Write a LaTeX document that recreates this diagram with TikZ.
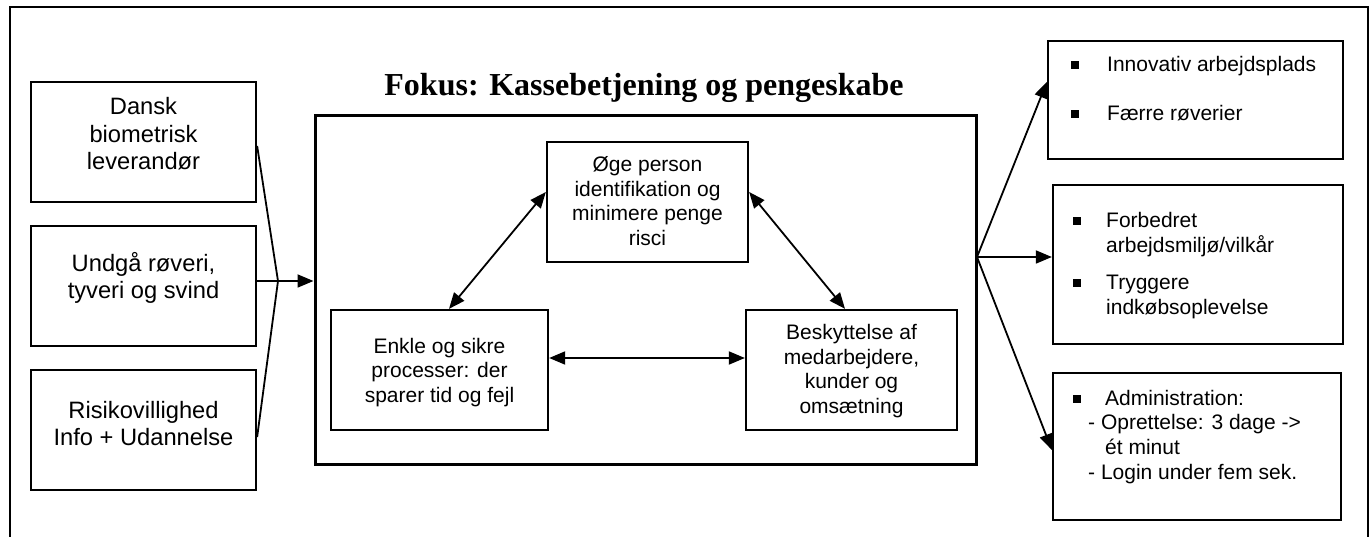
\documentclass[tikz,border=0pt]{standalone}
\usepackage{fontspec}
\setmainfont{Liberation Sans}
\newfontfamily\titlefont{Liberation Serif}
\usetikzlibrary{arrows.meta}
\newcommand{\bulA}[1]{\makebox[#1][l]{\rule[2.5pt]{8pt}{8pt}}}
\begin{document}
\begin{tikzpicture}[x=1pt,y=-1pt,
  box/.style={draw, line width=2.3pt, inner sep=0pt},
  mainbox/.style={draw, line width=3pt, inner sep=0pt},
  bigtxt/.style={font=\fontsize{23.7}{27.5}\selectfont, align=center, inner sep=0pt},
  smalltxt/.style={font=\fontsize{21}{24.4}\selectfont, align=center, inner sep=0pt},
  listtxt/.style={font=\fontsize{21}{25}\selectfont, align=left, inner sep=0pt, anchor=west},
  conn/.style={line width=1.8pt},
  tip/.style={-{Triangle[length=16pt,width=13pt]}},
  dtip/.style={{Triangle[length=16pt,width=13pt]}-{Triangle[length=16pt,width=13pt]}},
]
\useasboundingbox (0,0) rectangle (1371,537);
% outer frame, open at the bottom
\draw[line width=2pt] (10,537) -- (10,7) -- (1368,7) -- (1368,537);

% left input boxes
\node[box, minimum width=225pt, minimum height=120pt] (L1) at (143.5,142) {};
\node[box, minimum width=225pt, minimum height=120pt] (L2) at (143.5,286) {};
\node[box, minimum width=225pt, minimum height=120pt] (L3) at (143.5,430) {};
\node[bigtxt] (tL1) at (143.5,134) {Dansk\\biometrisk\\leverandør};
\node[bigtxt] (tL2) at (143.5,278) {Undgå røveri,\\tyveri og svind};
\node[bigtxt] (tL3) at (143.5,423.5) {Risikovillighed\\Info + Udannelse};

% title
\node[font=\titlefont\bfseries\fontsize{32}{36}\selectfont, inner sep=0pt, anchor=base] (title) at (644,96) {Fokus: Kassebetjening og pengeskabe};

% main box
\node[mainbox, minimum width=661pt, minimum height=348pt] (M) at (645.5,290) {};

% inner boxes
\node[box, minimum width=201pt, minimum height=120pt] (O) at (647.5,202) {};
\node[box, minimum width=217pt, minimum height=120pt] (E) at (439.5,370) {};
\node[box, minimum width=211pt, minimum height=120pt] (B) at (851.5,370) {};
\node[smalltxt] (tO) at (647.5,201) {Øge person\\identifikation og\\minimere penge\\risci};
\node[smalltxt] (tE) at (439.5,372.5) {Enkle og sikre\\processer: der\\sparer tid og fejl};
\node[smalltxt] (tB) at (851.5,371) {Beskyttelse af\\medarbejdere,\\kunder og\\omsætning};

% right output boxes
\node[box, minimum width=295pt, minimum height=118pt] (R1) at (1195.5,100) {};
\node[box, minimum width=290pt, minimum height=159pt] (R2) at (1198,264.5) {};
\node[box, minimum width=288pt, minimum height=147pt] (R3) at (1197,446.5) {};
\node[listtxt] (tR1) at (1071,88.5) {\bulA{36pt}Innovativ arbejdsplads\\[23.6pt]\bulA{36pt}Færre røverier};
\node[listtxt] (tR2) at (1073,265.2) {\bulA{33pt}Forbedret\\\hspace*{33pt}arbejdsmiljø/vilkår\\[12pt]\bulA{33pt}Tryggere\\\hspace*{33pt}indkøbsoplevelse};
\node[listtxt, font=\fontsize{21}{24.7}\selectfont] (tR3) at (1073,436.7) {\bulA{32pt}Administration:\\\hspace*{15pt}- Oprettelse: 3 dage ->\\\hspace*{32pt}ét minut\\\hspace*{15pt}- Login under fem sek.};

% input fan
\coordinate (fan) at (278,281);
\draw[conn] ([yshift=-4pt]L1.east) -- (fan) -- ([yshift=-7pt]L3.east);
\draw[conn, tip] (L2.east |- fan) -- (M.west |- fan);

% inner connectors
\draw[conn, dtip] ([yshift=10pt]O.west) -- ([xshift=9.5pt]E.north);
\draw[conn, dtip] ([yshift=10pt]O.east) -- ([xshift=-6.5pt]B.north);
\draw[conn, dtip] ([yshift=12pt]E.east) -- ([yshift=12pt]B.west);

% output fan
\coordinate (ofan) at (977,257);
\draw[conn, tip] (ofan) -- ([yshift=18pt]R1.west);
\draw[conn, tip] (ofan) -- (R2.west |- ofan);
\draw[conn, tip] (ofan) -- ([yshift=-3.5pt]R3.west);
\end{tikzpicture}
\end{document}
